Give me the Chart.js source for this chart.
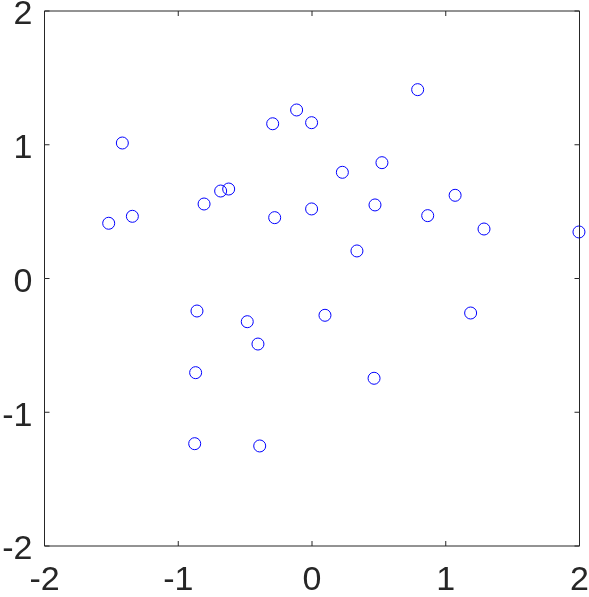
<!DOCTYPE html>
<html lang="en">
  <head>
    <meta charset="UTF-8" />
    <title>Scatter</title>
    <script src="https://cdn.jsdelivr.net/npm/chart.js"></script>
    <style>
      body { margin: 0; background: #fff; }
      #plot { display: block; }
    </style>
  </head>
  <body>
    <canvas id="plot" width="589" height="597"></canvas>
    <script>
      // data
      const xVals = [-1.418, -1.520, -1.343, -0.807, -0.683, -0.623, -0.279, -0.860, -0.484,
                     0.790, -0.115, -0.294, -0.003, 0.523, 0.227, -0.003, 0.471, 0.865,
                     1.070, 0.336, 0.097, -0.404, -0.870, 0.464, -0.877, -0.391, 1.286,
                     1.996, 1.186];
      const yVals = [1.013, 0.413, 0.465, 0.557, 0.654, 0.669, 0.455, -0.243, -0.323,
                     1.412, 1.260, 1.157, 1.165, 0.866, 0.794, 0.520, 0.550, 0.470,
                     0.622, 0.206, -0.275, -0.490, -0.704, -0.746, -1.235, -1.252, 0.370,
                     0.348, -0.258];
      const tickVals = [-2, -1, 0, 1, 2];

      const axisColor = '#262626';
      const labelFont = { family: 'Liberation Sans, Arial, sans-serif', size: 34 };

      // box around the axes plus inward ticks on all four sides
      const boxPlugin = {
        id: 'box',
        afterDraw(chart) {
          const { ctx, chartArea: a, scales } = chart;
          ctx.save();
          ctx.strokeStyle = axisColor;
          ctx.lineWidth = 1;
          ctx.beginPath();
          ctx.rect(a.left, a.top, a.right - a.left, a.bottom - a.top);
          tickVals.forEach(v => {
            const px = scales.x.getPixelForValue(v);
            const py = scales.y.getPixelForValue(v);
            ctx.moveTo(px, a.bottom); ctx.lineTo(px, a.bottom - 5);
            ctx.moveTo(px, a.top); ctx.lineTo(px, a.top + 5);
            ctx.moveTo(a.left, py); ctx.lineTo(a.left + 5, py);
            ctx.moveTo(a.right, py); ctx.lineTo(a.right - 5, py);
          });
          ctx.stroke();
          ctx.restore();
        }
      };

      // fixed axis sizes, no extra room for overhanging labels
      function fixSize(s, w, h) {
        if (w !== null) s.width = w;
        if (h !== null) s.height = h;
        s.paddingLeft = 0; s.paddingRight = 0;
        s.paddingTop = 0; s.paddingBottom = 0;
      }

      new Chart(document.getElementById('plot'), {
        type: 'scatter',
        data: {
          datasets: [{
            data: xVals.map((x, i) => ({ x: x, y: yVals[i] })),
            pointStyle: 'circle',
            pointRadius: 6,
            pointHoverRadius: 6,
            borderColor: '#0000ff',
            backgroundColor: 'rgba(0,0,0,0)',
            borderWidth: 1,
            clip: false
          }]
        },
        options: {
          responsive: false,
          animation: false,
          events: [],
          layout: { padding: { top: 11, right: 9.5, left: 0, bottom: 0 } },
          plugins: { legend: { display: false }, tooltip: { enabled: false } },
          scales: {
            x: {
              type: 'linear', min: -2, max: 2,
              afterFit: s => fixSize(s, null, 51),
              grid: { display: false, drawTicks: false },
              border: { display: false },
              ticks: { stepSize: 1, color: axisColor, font: labelFont, padding: 14, maxRotation: 0 }
            },
            y: {
              type: 'linear', min: -2, max: 2,
              afterFit: s => fixSize(s, 44.5, null),
              grid: { display: false, drawTicks: false },
              border: { display: false },
              ticks: { stepSize: 1, color: axisColor, font: labelFont, padding: 12, labelOffset: 4 }
            }
          }
        },
        plugins: [boxPlugin]
      });
    </script>
  </body>
</html>
